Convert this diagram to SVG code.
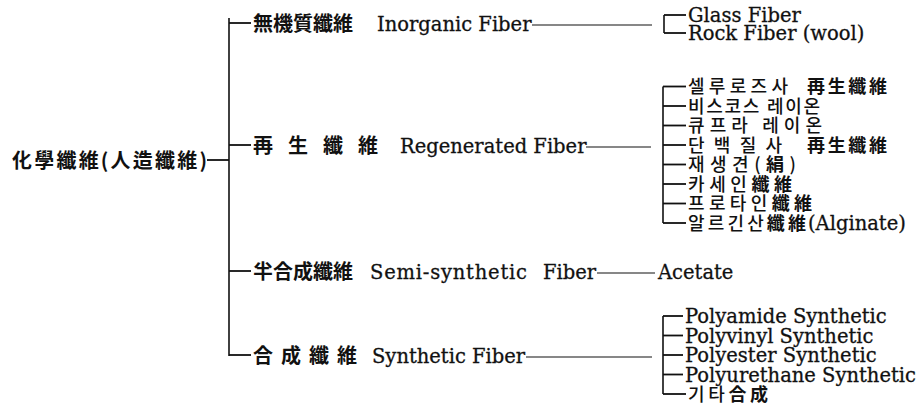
<svg xmlns="http://www.w3.org/2000/svg" width="919" height="415" viewBox="0 0 919 415">
<style>
.bg{fill:#fff}
text{fill:#111}
.cjk{font-family:"Noto Sans CJK KR","Noto Sans CJK TC",sans-serif;font-size:20px;font-weight:700}
.ko{font-family:"Noto Sans CJK KR",sans-serif;font-size:18px;font-weight:500}
.hj{font-family:"Noto Sans CJK KR",sans-serif;font-weight:700}
.en{font-family:"DejaVu Serif","Liberation Serif",serif;font-size:19.5px;stroke:#111;stroke-width:0.3}
.v{stroke:#111;stroke-width:1.6;fill:none}
.d{stroke:#111;stroke-width:1.8;fill:none}
.l{stroke:#111;stroke-width:1.2;fill:none}
</style>
<rect class="bg" x="0" y="0" width="919" height="415"/>
<g id="connectors">
  <line class="d" x1="207" y1="160" x2="229" y2="160"/>
  <line class="v" x1="229" y1="18" x2="229" y2="356"/>
  <line class="d" x1="229" y1="23" x2="251" y2="23"/>
  <line class="d" x1="229" y1="145" x2="251" y2="145"/>
  <line class="d" x1="229" y1="271" x2="251" y2="271"/>
  <line class="d" x1="229" y1="355" x2="251" y2="355"/>
  <line class="l" x1="532" y1="25" x2="652" y2="25"/>
  <line class="l" x1="586" y1="147" x2="651" y2="147"/>
  <line class="l" x1="597" y1="273" x2="655" y2="273"/>
  <line class="l" x1="526" y1="357" x2="652" y2="357"/>
  <line class="v" x1="664" y1="15" x2="664" y2="33"/>
  <line class="d" x1="664" y1="15" x2="686" y2="15"/>
  <line class="d" x1="664" y1="33" x2="686" y2="33"/>
  <line class="v" x1="663" y1="86.5" x2="663" y2="223"/>
  <line class="d" x1="663" y1="86.5" x2="686" y2="86.5"/>
  <line class="d" x1="663" y1="106" x2="686" y2="106"/>
  <line class="d" x1="663" y1="125.5" x2="686" y2="125.5"/>
  <line class="d" x1="663" y1="145" x2="686" y2="145"/>
  <line class="d" x1="663" y1="164.5" x2="686" y2="164.5"/>
  <line class="d" x1="663" y1="184" x2="686" y2="184"/>
  <line class="d" x1="663" y1="203.5" x2="686" y2="203.5"/>
  <line class="d" x1="663" y1="223" x2="686" y2="223"/>
  <line class="v" x1="663" y1="316" x2="663" y2="394"/>
  <line class="d" x1="663" y1="316" x2="683" y2="316"/>
  <line class="d" x1="663" y1="335.5" x2="683" y2="335.5"/>
  <line class="d" x1="663" y1="355" x2="683" y2="355"/>
  <line class="d" x1="663" y1="374.5" x2="683" y2="374.5"/>
  <line class="d" x1="663" y1="394" x2="686" y2="394"/>
</g>
<g id="root">
  <text class="cjk" x="12" y="168" font-size="21" textLength="195" lengthAdjust="spacing">化學纖維(人造纖維)</text>
</g>
<g id="inorganic">
  <text class="cjk" x="253" y="30.5">無機質纖維</text>
  <text class="en" x="377" y="31">Inorganic Fiber</text>
</g>
<g id="inorganic-items">
  <text class="en" x="688" y="22">Glass Fiber</text>
  <text class="en" x="688" y="40">Rock Fiber (wool)</text>
</g>
<g id="regenerated">
  <text class="cjk" x="253 288 323 358" y="152.5">再生纖維</text>
  <text class="en" x="400" y="153">Regenerated Fiber</text>
</g>
<g id="regenerated-items">
  <text class="ko" y="93"><tspan x="688" textLength="100" lengthAdjust="spacing">셀루로즈사</tspan><tspan class="hj" x="807" textLength="80" lengthAdjust="spacing">再生纖維</tspan></text>
  <text class="ko" x="688" y="112.5" textLength="132" lengthAdjust="spacing">비스코스 레이온</text>
  <text class="ko" x="688" y="132" textLength="134" lengthAdjust="spacing">큐프라 레이온</text>
  <text class="ko" y="151.5"><tspan x="688" textLength="94" lengthAdjust="spacing">단백질사</tspan><tspan class="hj" x="807" textLength="80" lengthAdjust="spacing">再生纖維</tspan></text>
  <text class="ko" x="688" y="171" textLength="108" lengthAdjust="spacing">재생견(<tspan class="hj">絹</tspan>)</text>
  <text class="ko" x="688" y="190.5" textLength="104" lengthAdjust="spacing">카세인<tspan class="hj">纖維</tspan></text>
  <text class="ko" x="688" y="210" textLength="124" lengthAdjust="spacing">프로타인<tspan class="hj">纖維</tspan></text>
  <text class="ko" x="688" y="229.5" textLength="118" lengthAdjust="spacing">알르긴산<tspan class="hj">纖維</tspan></text>
  <text class="en" x="808" y="230">(Alginate)</text>
</g>
<g id="semisynthetic">
  <text class="cjk" x="253" y="278.5">半合成纖維</text>
  <text class="en" y="279"><tspan x="370" textLength="157" lengthAdjust="spacing">Semi-synthetic</tspan><tspan x="543">Fiber</tspan></text>
</g>
<g id="acetate">
  <text class="en" x="658" y="279">Acetate</text>
</g>
<g id="synthetic">
  <text class="cjk" x="253 281 309 337" y="362.5">合成纖維</text>
  <text class="en" x="372" y="363">Synthetic Fiber</text>
</g>
<g id="synthetic-items">
  <text class="en" x="685" y="323">Polyamide Synthetic</text>
  <text class="en" x="685" y="342.5">Polyvinyl Synthetic</text>
  <text class="en" x="685" y="362">Polyester Synthetic</text>
  <text class="en" x="685" y="381.5">Polyurethane Synthetic</text>
  <text class="ko" x="688" y="401" textLength="80" lengthAdjust="spacing">기타<tspan class="hj">合成</tspan></text>
</g>
</svg>
